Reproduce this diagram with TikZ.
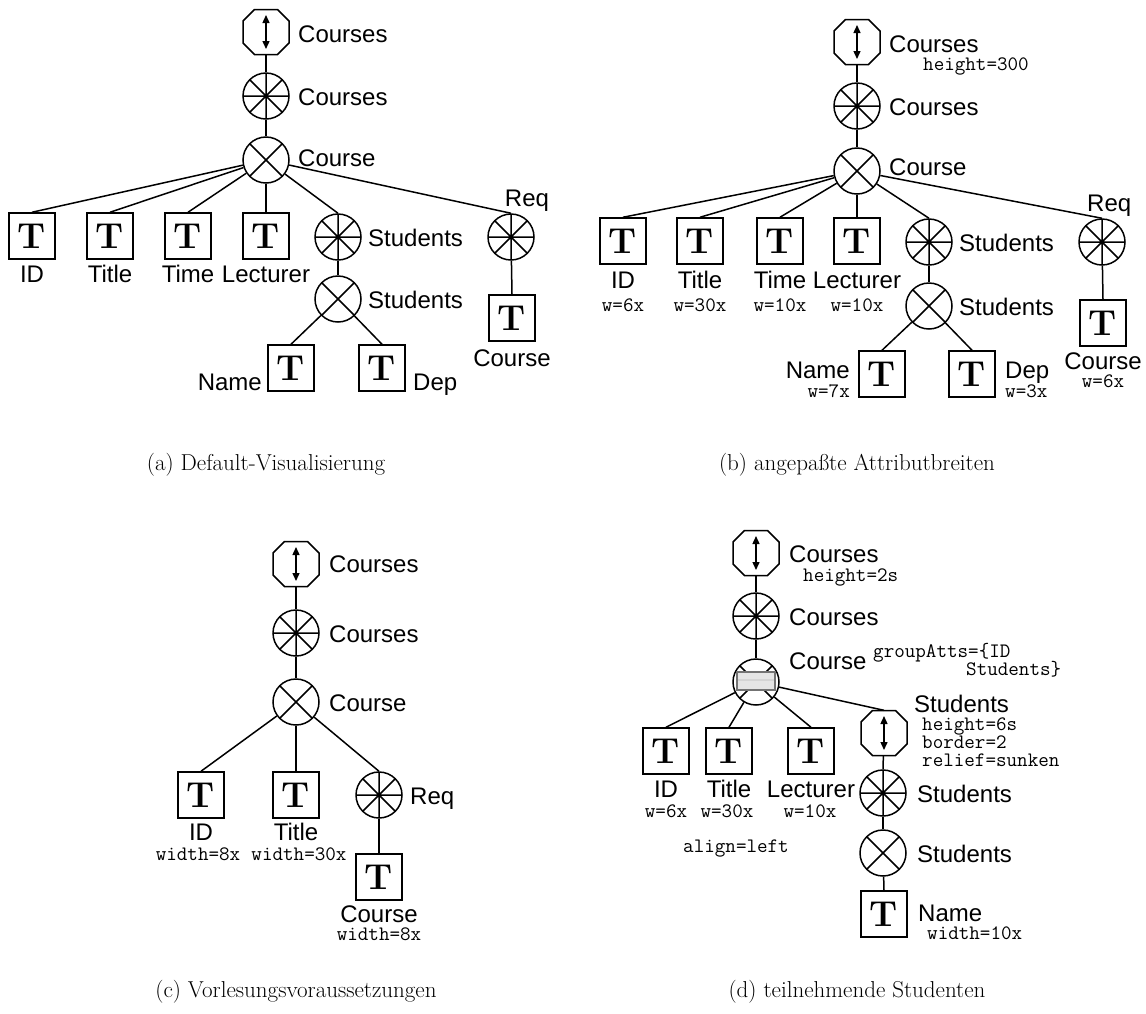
\documentclass[tikz,border=0pt]{standalone}
\usepackage{fontspec}
\usetikzlibrary{arrows.meta}
\newfontfamily\sansf{Liberation Sans}

% octagon outline with a double-headed arrow, drawn around a placeholder node
\newcommand\octshape[1]{%
  \draw[ln] ([shift={(-11.5,-22.5)}]#1.center) -- ([shift={(11.5,-22.5)}]#1.center)
    -- ([shift={(23,-11)}]#1.center) -- ([shift={(23,11)}]#1.center)
    -- ([shift={(11.5,22.5)}]#1.center) -- ([shift={(-11.5,22.5)}]#1.center)
    -- ([shift={(-23,11)}]#1.center) -- ([shift={(-23,-11)}]#1.center) -- cycle;
  \draw[line width=1.4pt,{Triangle[length=8pt,width=7pt]}-{Triangle[length=8pt,width=7pt]}]
    ([shift={(0,-17)}]#1.center) -- ([shift={(0,17)}]#1.center);}

\tikzset{
  ln/.style={line width=1.5pt},
  oct/.style={rectangle, minimum width=46pt, minimum height=45pt, inner sep=0pt},
  tbox/.style={rectangle, draw, ln, minimum size=46pt, inner sep=0pt,
    font=\fontsize{36}{36}\selectfont\bfseries},
  xcirc/.style={circle, draw, ln, minimum size=46pt, inner sep=0pt,
    path picture={\draw[ln]
      (path picture bounding box.north west) -- (path picture bounding box.south east)
      (path picture bounding box.north east) -- (path picture bounding box.south west);}},
  scirc/.style={circle, draw, ln, minimum size=46pt, inner sep=0pt,
    path picture={\draw[ln]
      (path picture bounding box.north west) -- (path picture bounding box.south east)
      (path picture bounding box.north east) -- (path picture bounding box.south west)
      (path picture bounding box.west) -- (path picture bounding box.east)
      (path picture bounding box.north) -- (path picture bounding box.south);
      \fill (path picture bounding box.center) circle[radius=2.2];}},
  sl/.style={inner sep=0pt, anchor=base west, font=\sansf\fontsize{24}{24}\selectfont},
  slc/.style={sl, anchor=base},
  sle/.style={sl, anchor=base east},
  ml/.style={inner sep=0pt, anchor=base west, font=\ttfamily\fontsize{20.5}{20.5}\selectfont},
  mlc/.style={ml, anchor=base},
  mle/.style={ml, anchor=base east},
  captxt/.style={inner sep=0pt, anchor=base, font=\fontsize{23}{26}\selectfont},
  conn/.style={ln},
}

\begin{document}
\begin{tikzpicture}[x=1pt, y=-1pt]
\useasboundingbox (0,0) rectangle (1146,1013);

% ---------------- (a) default view ----------------
\node[oct] (aoct) at (266,32) {};
\node[scirc] (asp) at (266,96) {};
\node[xcirc] (ax) at (266,160) {};
\node[tbox] (aid) at (32,236) {T};
\node[tbox] (atit) at (110,236) {T};
\node[tbox] (atim) at (188,236) {T};
\node[tbox] (alec) at (266,236) {T};
\node[scirc] (astu) at (338,237) {};
\node[xcirc] (astx) at (338,299) {};
\node[tbox] (anam) at (291,368) {T};
\node[tbox] (adep) at (382,368) {T};
\node[scirc] (areq) at (511,237) {};
\node[tbox] (areqt) at (512,318) {T};
\octshape{aoct}
\draw[conn] (aoct) -- (asp.north);
\draw[conn] (asp) -- (ax.north);
\foreach \c in {aid,atit,atim,alec,astu,areq} \draw[conn] (ax) -- (\c.north);
\draw[conn] (astu) -- (astx.north);
\draw[conn] (astx) -- (anam.north);
\draw[conn] (astx) -- (adep.north);
\draw[conn] (areq) -- (areqt.north);
\node[sl] (laoct) at (298,42) {Courses};
\node[sl] (lasp) at (298,105) {Courses};
\node[sl] (lax) at (298,166) {Course};
\node[slc] (laid) at (32,282) {ID};
\node[slc] (latit) at (110,282) {Title};
\node[slc] (latim) at (188,282) {Time};
\node[slc] (lalec) at (266,282) {Lecturer};
\node[sl] (lastu) at (368,246) {Students};
\node[sl] (lastx) at (368,308) {Students};
\node[sle] (lanam) at (262,390) {Name};
\node[sl] (ladep) at (413,390) {Dep};
\node[slc] (lareq) at (527,206) {Req};
\node[slc] (lareqt) at (512,366) {Course};
\node[captxt] (capa) at (266,470) {(a) Default-Visualisierung};

% ---------------- (b) adjusted attribute widths ----------------
\node[oct] (boct) at (857,42) {};
\node[scirc] (bsp) at (857,106) {};
\node[xcirc] (bx) at (857,171) {};
\node[tbox] (bid) at (623,241) {T};
\node[tbox] (btit) at (700,241) {T};
\node[tbox] (btim) at (780,241) {T};
\node[tbox] (blec) at (857,241) {T};
\node[scirc] (bstu) at (929,242) {};
\node[xcirc] (bstx) at (929,306) {};
\node[tbox] (bnam) at (882,374) {T};
\node[tbox] (bdep) at (972,374) {T};
\node[scirc] (breq) at (1102,242) {};
\node[tbox] (breqt) at (1103,323) {T};
\octshape{boct}
\draw[conn] (boct) -- (bsp.north);
\draw[conn] (bsp) -- (bx.north);
\foreach \c in {bid,btit,btim,blec,bstu,breq} \draw[conn] (bx) -- (\c.north);
\draw[conn] (bstu) -- (bstx.north);
\draw[conn] (bstx) -- (bnam.north);
\draw[conn] (bstx) -- (bdep.north);
\draw[conn] (breq) -- (breqt.north);
\node[sl] (lboct) at (889,52) {Courses};
\node[ml] (hboct) at (923,70) {height=300};
\node[sl] (lbsp) at (889,115) {Courses};
\node[sl] (lbx) at (889,175) {Course};
\node[slc] (lbid) at (623,288) {ID};
\node[slc] (lbtit) at (700,288) {Title};
\node[slc] (lbtim) at (780,288) {Time};
\node[slc] (lblec) at (857,288) {Lecturer};
\node[mlc] (wbid) at (623,311) {w=6x};
\node[mlc] (wbtit) at (700,311) {w=30x};
\node[mlc] (wbtim) at (780,311) {w=10x};
\node[mlc] (wblec) at (857,311) {w=10x};
\node[sl] (lbstu) at (959,251) {Students};
\node[sl] (lbstx) at (959,315) {Students};
\node[sle] (lbnam) at (850,378) {Name};
\node[mle] (wbnam) at (850,397) {w=7x};
\node[sl] (lbdep) at (1005,378) {Dep};
\node[ml] (wbdep) at (1005,397) {w=3x};
\node[sl] (lbreq) at (1087,211) {Req};
\node[slc] (lbreqt) at (1103,369) {Course};
\node[mlc] (wbreqt) at (1103,387) {w=6x};
\node[captxt] (capb) at (857,470) {(b) angepaßte Attributbreiten};

% ---------------- (c) course prerequisites ----------------
\node[oct] (coct) at (296,564) {};
\node[scirc] (csp) at (296,633) {};
\node[xcirc] (cx) at (296,702) {};
\node[tbox] (cid) at (201,795) {T};
\node[tbox] (ctit) at (296,795) {T};
\node[scirc] (creq) at (379,795) {};
\node[tbox] (creqt) at (379,877) {T};
\octshape{coct}
\draw[conn] (coct) -- (csp.north);
\draw[conn] (csp) -- (cx.north);
\foreach \c in {cid,ctit,creq} \draw[conn] (cx) -- (\c.north);
\draw[conn] (creq) -- (creqt.north);
\node[sl] (lcoct) at (329,572) {Courses};
\node[sl] (lcsp) at (329,642) {Courses};
\node[sl] (lcx) at (329,711) {Course};
\node[slc] (lcid) at (201,840) {ID};
\node[slc] (lctit) at (296,840) {Title};
\node[mlc] (wcid) at (198,860) {width=8x};
\node[mlc] (wctit) at (299,860) {width=30x};
\node[sl] (lcreq) at (410,804) {Req};
\node[slc] (lcreqt) at (379,922) {Course};
\node[mlc] (wcreqt) at (379,940) {width=8x};
\node[captxt] (capc) at (296,997) {(c) Vorlesungsvoraussetzungen};

% ---------------- (d) participating students ----------------
\node[oct] (doct) at (756,553) {};
\node[scirc] (dsp) at (756,616) {};
\node[xcirc] (dx) at (756,682) {};
\node[tbox] (did) at (666,751) {T};
\node[tbox] (dtit) at (729,751) {T};
\node[tbox] (dlec) at (811,751) {T};
\node[oct] (dsoct) at (884,733) {};
\node[scirc] (dssp) at (883,793) {};
\node[xcirc] (dsx) at (883,853) {};
\node[tbox] (dnam) at (884,914) {T};
\octshape{doct}
\octshape{dsoct}
\draw[ln, draw=black!55, fill=black!10] ([shift={(-19,-10)}]dx.center) rectangle ([shift={(19,8)}]dx.center);
\fill[black!17] ([shift={(-18,-3)}]dx.center) rectangle ([shift={(18,-1)}]dx.center);
\draw[conn] (doct) -- (dsp.north);
\draw[conn] (dsp) -- (dx.north);
\foreach \c in {did,dtit,dlec,dsoct} \draw[conn] (dx) -- (\c.north);
\draw[conn] (dsoct) -- (dssp.north);
\draw[conn] (dssp) -- (dsx.north);
\draw[conn] (dsx) -- (dnam.north);
\node[sl] (ldoct) at (789,562) {Courses};
\node[ml] (hdoct) at (803,581) {height=2s};
\node[sl] (ldsp) at (789,625) {Courses};
\node[sl] (ldx) at (789,669) {Course};
\node[ml] (gdx1) at (873,657) {groupAtts=\{ID};
\node[ml] (gdx2) at (966,675) {Students\}};
\node[slc] (ldid) at (666,797) {ID};
\node[slc] (ldtit) at (729,797) {Title};
\node[slc] (ldlec) at (811,797) {Lecturer};
\node[mlc] (wdid) at (666,817) {w=6x};
\node[mlc] (wdtit) at (727,817) {w=30x};
\node[mlc] (wdlec) at (810,817) {w=10x};
\node[mlc] (align) at (736,852) {align=left};
\node[sl] (ldsoct) at (914,712) {Students};
\node[ml] (hdsoct) at (922,730) {height=6s};
\node[ml] (bdsoct) at (922,748) {border=2};
\node[ml] (rdsoct) at (922,766) {relief=sunken};
\node[sl] (ldssp) at (917,802) {Students};
\node[sl] (ldsx) at (917,862) {Students};
\node[sl] (ldnam) at (918,921) {Name};
\node[ml] (wdnam) at (927,939) {width=10x};
\node[captxt] (capd) at (857,997) {(d) teilnehmende Studenten};
\end{tikzpicture}
\end{document}
